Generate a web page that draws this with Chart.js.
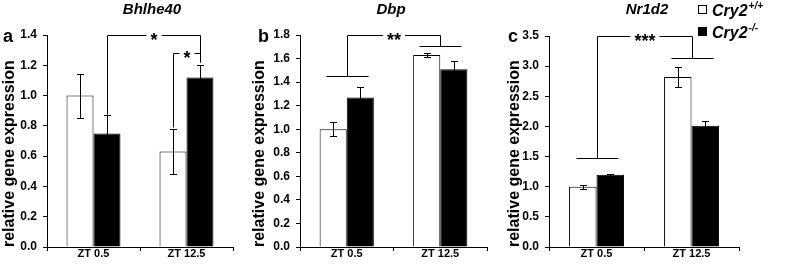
<!DOCTYPE html>
<html>
<head>
<meta charset="utf-8">
<script src="https://cdn.jsdelivr.net/npm/chart.js@4/dist/chart.umd.min.js"></script>
<style>
  body { margin: 0; background: #fff; }
  #wrap { position: relative; width: 787px; height: 264px; overflow: hidden; }
  canvas { position: absolute; top: 0; }
</style>
</head>
<body>
<div id="wrap">
  <canvas id="chartA" width="250" height="264" style="left:0"></canvas>
  <canvas id="chartB" width="250" height="264" style="left:250px"></canvas>
  <canvas id="chartC" width="287" height="264" style="left:500px"></canvas>
</div>
<script>
// categories / genotypes
const timePoints = ['ZT 0.5', 'ZT 12.5'];
const genotypes = ['Cry2', 'Cry2'];
const genotypeSup = ['+/+', '-/-'];

// Bhlhe40
const bhlhe40Wt = [1.00, 0.63];
const bhlhe40WtErr = [0.145, 0.15];
const bhlhe40Ko = [0.75, 1.12];
const bhlhe40KoErr = [0.12, 0.08];
const bhlhe40Ticks = [0, 0.2, 0.4, 0.6, 0.8, 1.0, 1.2, 1.4];
// brackets: from/to = [category, dataset] or a category for the whole group
const bhlhe40Sig = [
    { from: [0, 1], to: [1, 1], y1: 0.88, y2: 1.22, top: 1.40, text: '*' },
    { from: [1, 0], to: [1, 1], y1: 0.79, y2: 1.22, top: 1.28, text: '*' }
];

// Dbp
const dbpWt = [1.00, 1.63];
const dbpWtErr = [0.06, 0.015];
const dbpKo = [1.27, 1.51];
const dbpKoErr = [0.09, 0.07];
const dbpTicks = [0, 0.2, 0.4, 0.6, 0.8, 1.0, 1.2, 1.4, 1.6, 1.8];
const dbpSig = [{ from: 0, to: 1, y1: 1.45, y2: 1.71, top: 1.80, text: '**' }];

// Nr1d2
const nr1d2Wt = [1.00, 2.82];
const nr1d2WtErr = [0.03, 0.16];
const nr1d2Ko = [1.20, 2.01];
const nr1d2KoErr = [0.015, 0.08];
const nr1d2Ticks = [0, 0.5, 1.0, 1.5, 2.0, 2.5, 3.0, 3.5];
const nr1d2Sig = [{ from: 0, to: 1, y1: 1.47, y2: 3.14, top: 3.50, text: '***' }];

const FONT = "'Liberation Sans', Arial, sans-serif";
Chart.defaults.font.family = FONT;
Chart.defaults.color = '#000';

const crisp = v => Math.round(v) + 0.5;

const errorBars = {
    id: 'errorBars',
    afterDatasetsDraw(chart) {
        const ctx = chart.ctx;
        const ys = chart.scales.y;
        ctx.save();
        ctx.strokeStyle = '#000';
        ctx.lineWidth = 1;
        chart.data.datasets.forEach((ds, i) => {
            chart.getDatasetMeta(i).data.forEach((bar, j) => {
                const x = crisp(bar.x);
                const yt = crisp(ys.getPixelForValue(ds.data[j] + ds.errors[j]));
                const yb = crisp(ys.getPixelForValue(ds.data[j] - ds.errors[j]));
                ctx.beginPath();
                ctx.moveTo(x, yt); ctx.lineTo(x, yb);
                ctx.moveTo(x - 3.5, yt); ctx.lineTo(x + 3.5, yt);
                ctx.moveTo(x - 3.5, yb); ctx.lineTo(x + 3.5, yb);
                ctx.stroke();
            });
        });
        ctx.restore();
    }
};

const brackets = (items) => ({
    id: 'sigBrackets',
    afterDatasetsDraw(chart) {
        const ctx = chart.ctx;
        const xs = chart.scales.x, ys = chart.scales.y;
        const bw = chart.getDatasetMeta(0).data[0].width;
        ctx.save();
        ctx.strokeStyle = '#000';
        ctx.fillStyle = '#000';
        ctx.lineWidth = 1;
        ctx.font = 'bold 18px ' + FONT;
        items.forEach(b => {
            const grouped = !Array.isArray(b.from);
            const xOf = p => grouped ? xs.getPixelForValue(p) : chart.getDatasetMeta(p[1]).data[p[0]].x;
            const x1 = crisp(xOf(b.from)), x2 = crisp(xOf(b.to));
            const y1 = crisp(ys.getPixelForValue(b.y1));
            const y2 = crisp(ys.getPixelForValue(b.y2));
            const yt = crisp(ys.getPixelForValue(b.top));
            const mid = (x1 + x2) / 2;
            const gap = ctx.measureText(b.text).width / 2 + 4;
            ctx.beginPath();
            ctx.moveTo(x1, y1); ctx.lineTo(x1, yt); ctx.lineTo(mid - gap, yt);
            ctx.moveTo(mid + gap, yt); ctx.lineTo(x2, yt); ctx.lineTo(x2, y2);
            if (grouped) {
                const w = Math.round(bw * 0.78);
                ctx.moveTo(x1 - w, y1); ctx.lineTo(x1 + w, y1);
                ctx.moveTo(x2 - w, y2); ctx.lineTo(x2 + w, y2);
            }
            ctx.stroke();
            ctx.textAlign = 'center';
            ctx.textBaseline = 'alphabetic';
            ctx.fillText(b.text, mid, yt + 10);
        });
        ctx.restore();
    }
});

const panelText = (letter, title, titleX, withLegend) => ({
    id: 'panelText',
    afterDraw(chart) {
        const ctx = chart.ctx;
        ctx.save();
        ctx.fillStyle = '#000';
        ctx.font = 'bold 18px ' + FONT;
        ctx.textAlign = 'left';
        ctx.textBaseline = 'alphabetic';
        ctx.fillText(letter.text, letter.x, 42);
        ctx.font = 'italic bold 15px ' + FONT;
        ctx.textAlign = 'center';
        ctx.textBaseline = 'middle';
        ctx.fillText(title, titleX, 10);
        if (withLegend) {
            const rows = [10, 32];
            genotypes.forEach((g, i) => {
                const cy = rows[i];
                ctx.fillStyle = chart.data.datasets[i].backgroundColor;
                ctx.strokeStyle = '#000';
                ctx.lineWidth = 1;
                ctx.fillRect(198.5, cy - 4.5, 8, 8);
                ctx.strokeRect(198.5, cy - 4.5, 8, 8);
                ctx.fillStyle = '#000';
                ctx.textAlign = 'left';
                ctx.textBaseline = 'alphabetic';
                ctx.font = 'italic bold 16px ' + FONT;
                ctx.fillText(g, 212, cy + 6);
                const w = ctx.measureText(g).width;
                ctx.font = 'italic bold 10px ' + FONT;
                ctx.fillText(genotypeSup[i], 212 + w + 1, cy - 1);
            });
        }
        ctx.restore();
    }
});

function makePanel(id, p) {
    return new Chart(document.getElementById(id), {
        type: 'bar',
        data: {
            labels: timePoints,
            datasets: [
                { label: genotypes[0] + genotypeSup[0], data: p.wt, errors: p.wtErr,
                  backgroundColor: '#fff', borderColor: '#000', borderWidth: 1 },
                { label: genotypes[1] + genotypeSup[1], data: p.ko, errors: p.koErr,
                  backgroundColor: '#000', borderColor: '#000', borderWidth: 1 }
            ]
        },
        options: {
            responsive: false,
            animation: false,
            devicePixelRatio: 1,
            layout: { padding: { top: p.top, right: p.right, left: 0, bottom: 0 } },
            datasets: { bar: { categoryPercentage: 0.58, barPercentage: 1 } },
            plugins: { legend: { display: false }, tooltip: { enabled: false } },
            scales: {
                x: {
                    grid: { drawOnChartArea: false, tickLength: 4, color: '#000' },
                    border: { color: '#000' },
                    ticks: { font: { size: 11, weight: 'bold' }, padding: -4 },
                    afterFit: s => { s.height = 17; }
                },
                y: {
                    min: 0,
                    max: p.ticks[p.ticks.length - 1],
                    afterBuildTicks: s => { s.ticks = p.ticks.map(v => ({ value: v })); },
                    grid: { drawOnChartArea: false, tickLength: 4, color: '#000' },
                    border: { color: '#000' },
                    ticks: { font: { size: 12, weight: 'bold' }, padding: 6, callback: v => v.toFixed(1) },
                    title: {
                        display: true, text: 'relative gene expression', align: 'start',
                        font: { size: 16, weight: 'bold' }, padding: { top: p.titlePad, bottom: 0 }
                    },
                    afterFit: s => { s.width = p.axisW; }
                }
            }
        },
        plugins: [errorBars, brackets(p.sig), panelText(p.letter, p.title, p.titleX, p.legend)]
    });
}

makePanel('chartA', { wt: bhlhe40Wt, wtErr: bhlhe40WtErr, ko: bhlhe40Ko, koErr: bhlhe40KoErr,
    ticks: bhlhe40Ticks, sig: bhlhe40Sig, top: 35, right: 17, axisW: 47, titlePad: 0,
    letter: { text: 'a', x: 3 }, title: 'Bhlhe40', titleX: 152, legend: false });
makePanel('chartB', { wt: dbpWt, wtErr: dbpWtErr, ko: dbpKo, koErr: dbpKoErr,
    ticks: dbpTicks, sig: dbpSig, top: 35, right: 13, axisW: 50, titlePad: 0,
    letter: { text: 'b', x: 8 }, title: 'Dbp', titleX: 141, legend: false });
makePanel('chartC', { wt: nr1d2Wt, wtErr: nr1d2WtErr, ko: nr1d2Ko, koErr: nr1d2KoErr,
    ticks: nr1d2Ticks, sig: nr1d2Sig, top: 36, right: 48, axisW: 49, titlePad: 5,
    letter: { text: 'c', x: 8 }, title: 'Nr1d2', titleX: 147, legend: true });
</script>
</body>
</html>
